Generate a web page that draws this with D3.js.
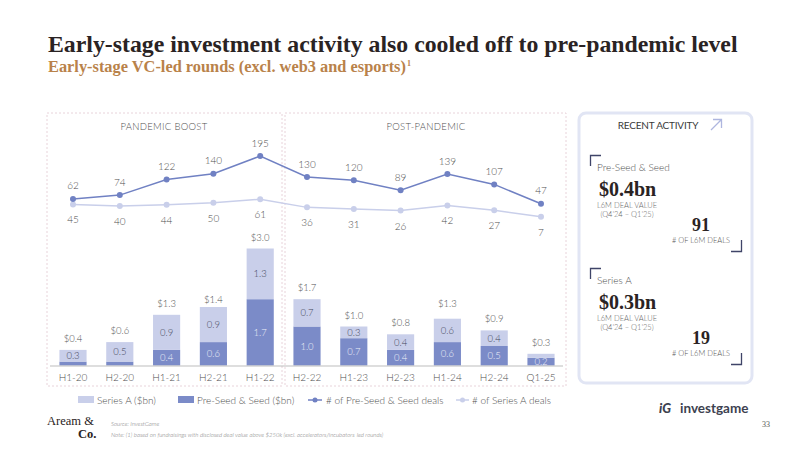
<!DOCTYPE html>
<html>
<head>
<meta charset="utf-8">
<script src="https://cdn.jsdelivr.net/npm/d3@7"></script>
<style>
  body { margin: 0; background: #fff; }
  svg { display: block; }
  text { font-family: Lato, "Open Sans", sans-serif; font-weight: 300; }
  .serif { font-family: "Liberation Serif", "DejaVu Serif", serif; }
</style>
</head>
<body>
<svg id="chart" width="800" height="450"></svg>
<script>
// periods on the x axis
var periods = ["H1-20", "H2-20", "H1-21", "H2-21", "H1-22", "H2-22", "H1-23", "H2-23", "H1-24", "H2-24", "Q1-25"];
// deal value, $bn
var seedValue = [0.1, 0.1, 0.4, 0.6, 1.7, 1.0, 0.7, 0.4, 0.6, 0.5, 0.2];
var seriesAValue = [0.3, 0.5, 0.9, 0.9, 1.3, 0.7, 0.3, 0.4, 0.6, 0.4, 0.1];
var totalValue = [0.4, 0.6, 1.3, 1.4, 3.0, 1.7, 1.0, 0.8, 1.3, 0.9, 0.3];
// number of deals
var seedDeals = [62, 74, 122, 140, 195, 130, 120, 89, 139, 107, 47];
var seriesADeals = [45, 40, 44, 50, 61, 36, 31, 26, 42, 27, 7];

var darkBlue = "#7b8bc8";
var lightBlue = "#c9cfea";
var textGray = "#4f4f4f";

var svg = d3.select("#chart");

// fit a text node to a given width by scaling its font size
function fitWidth(sel, size, w) {
  var l = sel.node().getComputedTextLength();
  sel.attr("font-size", size * w / l);
}

// title + subtitle
var title = svg.append("text")
    .attr("class", "serif")
    .attr("x", 48).attr("y", 52)
    .attr("font-size", 22).style("font-weight", "bold")
    .attr("fill", "#2a2323")
    .text("Early-stage investment activity also cooled off to pre-pandemic level");
fitWidth(title, 22, 690);

var sub = svg.append("text")
    .attr("class", "serif")
    .attr("x", 48).attr("y", 72)
    .attr("font-size", 15)
    .style("font-weight", "bold")
    .attr("fill", "#b9824a")
    .text("Early-stage VC-led rounds (excl. web3 and esports)");
fitWidth(sub, 15, 358);
svg.append("text").attr("class", "serif").attr("x", 407).attr("y", 66)
    .attr("font-size", 8).style("font-weight", "bold").attr("fill", "#b9824a").text("1");

// panel boxes
svg.append("rect").attr("x", 47).attr("y", 113).attr("width", 235).attr("height", 273)
    .attr("fill", "none").attr("stroke", "#e8d3da").attr("stroke-dasharray", "2,2");
svg.append("rect").attr("x", 285).attr("y", 113).attr("width", 281).attr("height", 273)
    .attr("fill", "none").attr("stroke", "#e8d3da").attr("stroke-dasharray", "2,2");

svg.append("text").attr("x", 164).attr("y", 129.5).attr("text-anchor", "middle")
    .attr("font-size", 9.5).attr("letter-spacing", 0.3).attr("fill", textGray).text("PANDEMIC BOOST");
svg.append("text").attr("x", 426).attr("y", 129.5).attr("text-anchor", "middle")
    .attr("font-size", 9.5).attr("letter-spacing", 0.3).attr("fill", textGray).text("POST-PANDEMIC");

// scales
var x = d3.scaleBand()
    .domain(periods)
    .range([49.6, 564.4])
    .paddingInner(0.42)
    .paddingOuter(0.21);

var yBar = d3.scaleLinear().domain([0, 3.0]).range([365.5, 248.5]);
var yLine = d3.scaleLinear().domain([0, 195]).range([219, 156]);

var rows = periods.map(function (p, i) {
  return { p: p, seed: seedValue[i], a: seriesAValue[i], total: totalValue[i],
           sd: seedDeals[i], ad: seriesADeals[i] };
});

var bars = svg.append("g");

// pre-seed & seed (bottom)
bars.selectAll("rect.seed")
    .data(rows).enter().append("rect")
    .attr("class", "seed")
    .attr("x", function (d) { return x(d.p); })
    .attr("width", x.bandwidth())
    .attr("y", function (d) { return yBar(d.seed); })
    .attr("height", function (d) { return yBar(0) - yBar(d.seed); })
    .attr("fill", darkBlue);

// series A (stacked on top)
bars.selectAll("rect.sa")
    .data(rows).enter().append("rect")
    .attr("class", "sa")
    .attr("x", function (d) { return x(d.p); })
    .attr("width", x.bandwidth())
    .attr("y", function (d) { return yBar(d.seed + d.a); })
    .attr("height", function (d) { return yBar(d.seed) - yBar(d.seed + d.a); })
    .attr("fill", lightBlue);

var cx = function (d) { return x(d.p) + x.bandwidth() / 2; };

// segment labels
bars.selectAll("text.seedlab")
    .data(rows.filter(function (d) { return d.seed >= 0.2; })).enter().append("text")
    .attr("x", cx)
    .attr("y", function (d) { return (yBar(0) + yBar(d.seed)) / 2 + 3.5; })
    .attr("text-anchor", "middle").attr("font-size", 9.5).attr("fill", "#eef0f8")
    .text(function (d) { return d.seed.toFixed(1); });

bars.selectAll("text.salab")
    .data(rows.filter(function (d) { return d.a >= 0.2; })).enter().append("text")
    .attr("x", cx)
    .attr("y", function (d) { return (yBar(d.seed) + yBar(d.seed + d.a)) / 2 + 3.5; })
    .attr("text-anchor", "middle").attr("font-size", 9.5).attr("fill", "#44475a")
    .text(function (d) { return d.a.toFixed(1); });

bars.selectAll("text.total")
    .data(rows).enter().append("text")
    .attr("x", cx)
    .attr("y", function (d) { return yBar(d.total) - 8; })
    .attr("text-anchor", "middle").attr("font-size", 9.5).attr("fill", textGray)
    .text(function (d) { return "$" + d.total.toFixed(1); });

// x axis
var xAxis = svg.append("g")
    .attr("transform", "translate(0," + yBar(0) + ")")
    .call(d3.axisBottom(x).tickSize(0).tickPadding(8));
xAxis.select(".domain").attr("stroke", "#bdbdbd").attr("stroke-width", 1.2)
    .attr("d", "M50,0.5H563");
xAxis.selectAll("text").attr("font-size", 10).attr("fill", textGray)
    .attr("font-family", "Lato, sans-serif");

// deal-count lines
var line = function (key) {
  return d3.line().x(cx).y(function (d) { return yLine(d[key]); });
};

svg.append("path").datum(rows).attr("d", line("ad"))
    .attr("fill", "none").attr("stroke", lightBlue).attr("stroke-width", 1.5);
svg.append("path").datum(rows).attr("d", line("sd"))
    .attr("fill", "none").attr("stroke", "#7081c3").attr("stroke-width", 1.5);

svg.selectAll("circle.ad").data(rows).enter().append("circle")
    .attr("cx", cx).attr("cy", function (d) { return yLine(d.ad); })
    .attr("r", 3).attr("fill", lightBlue);
svg.selectAll("circle.sd").data(rows).enter().append("circle")
    .attr("cx", cx).attr("cy", function (d) { return yLine(d.sd); })
    .attr("r", 3).attr("fill", "#7081c3");

svg.selectAll("text.sdl").data(rows).enter().append("text")
    .attr("x", cx).attr("y", function (d) { return yLine(d.sd) - 9.5; })
    .attr("text-anchor", "middle").attr("font-size", 10).attr("fill", textGray)
    .text(function (d) { return d.sd; });
svg.selectAll("text.adl").data(rows).enter().append("text")
    .attr("x", cx).attr("y", function (d) { return yLine(d.ad) + 19; })
    .attr("text-anchor", "middle").attr("font-size", 10).attr("fill", textGray)
    .text(function (d) { return d.ad; });

// legend
var leg = svg.append("g").attr("font-size", 10).attr("fill", textGray);
leg.append("rect").attr("x", 78).attr("y", 396).attr("width", 16).attr("height", 7).attr("fill", lightBlue);
leg.append("text").attr("x", 97).attr("y", 403.5).text("Series A ($bn)");
leg.append("rect").attr("x", 178).attr("y", 396).attr("width", 16).attr("height", 7).attr("fill", darkBlue);
leg.append("text").attr("x", 197).attr("y", 403.5).text("Pre-Seed & Seed ($bn)");
leg.append("line").attr("x1", 308).attr("x2", 322).attr("y1", 400).attr("y2", 400)
    .attr("stroke", "#7081c3").attr("stroke-width", 1.5);
leg.append("circle").attr("cx", 315).attr("cy", 400).attr("r", 2.5).attr("fill", "#7081c3");
leg.append("text").attr("x", 326).attr("y", 403.5).text("# of Pre-Seed & Seed deals");
leg.append("line").attr("x1", 456).attr("x2", 469).attr("y1", 400).attr("y2", 400)
    .attr("stroke", lightBlue).attr("stroke-width", 1.5);
leg.append("circle").attr("cx", 462.5).attr("cy", 400).attr("r", 2.5).attr("fill", lightBlue);
leg.append("text").attr("x", 472).attr("y", 403.5).text("# of Series A deals");

// recent activity card
var card = svg.append("g");
card.append("rect").attr("x", 579).attr("y", 113).attr("width", 173).attr("height", 270)
    .attr("rx", 7).attr("fill", "#fff").attr("stroke", "#e1e5f4").attr("stroke-width", 3);
card.append("text").attr("x", 658).attr("y", 129).attr("text-anchor", "middle")
    .attr("font-size", 10).style("font-weight", 400).attr("fill", "#3a3a3a").attr("letter-spacing", -0.2).text("RECENT ACTIVITY");
card.append("path").attr("d", "M711,130L721,120M713,119.5H721.5V128")
    .attr("fill", "none").attr("stroke", "#aeb6df").attr("stroke-width", 1.3);

var blocks = [
  { name: "Pre-Seed & Seed", value: "$0.4bn", deals: "91", y0: 0 },
  { name: "Series A", value: "$0.3bn", deals: "19", y0: 113 }
];
blocks.forEach(function (b) {
  var g = card.append("g").attr("transform", "translate(0," + b.y0 + ")");
  g.append("path").attr("d", "M590.5,166V155.5H601").attr("fill", "none")
      .attr("stroke", "#3f4468").attr("stroke-width", 1.3);
  g.append("text").attr("x", 597).attr("y", 170.5).attr("font-size", 10).attr("fill", "#4f4f4f").text(b.name);
  g.append("text").attr("class", "serif").attr("x", 599).attr("y", 196)
      .attr("font-size", 20).style("font-weight", "bold").attr("fill", "#2a2323").text(b.value);
  g.append("text").attr("x", 627).attr("y", 207.5).attr("text-anchor", "middle")
      .attr("font-size", 7.5).attr("fill", "#666").text("L6M DEAL VALUE");
  g.append("text").attr("x", 627).attr("y", 216.5).attr("text-anchor", "middle")
      .attr("font-size", 7.5).attr("fill", "#666").text("(Q4’24 – Q1’25)");
  g.append("text").attr("class", "serif").attr("x", 701).attr("y", 230.5).attr("text-anchor", "middle")
      .attr("font-size", 18).style("font-weight", "bold").attr("fill", "#2a2323").text(b.deals);
  g.append("text").attr("x", 701).attr("y", 242.5).attr("text-anchor", "middle")
      .attr("font-size", 7.5).attr("fill", "#555").text("# OF L6M DEALS");
  g.append("path").attr("d", "M741.5,240V251.5H731").attr("fill", "none")
      .attr("stroke", "#3f4468").attr("stroke-width", 1.3);
});

// footer
svg.append("text").attr("class", "serif").attr("x", 47).attr("y", 425)
    .attr("font-size", 12.5).style("font-weight", 400).attr("fill", "#2a2323").text("Aream &");
svg.append("text").attr("class", "serif").attr("x", 78).attr("y", 438)
    .attr("font-size", 12.5).style("font-weight", "bold").attr("fill", "#2a2323").text("Co.");
svg.append("text").attr("x", 111).attr("y", 426).attr("font-size", 6).attr("font-style", "italic")
    .attr("fill", "#777").text("Source: InvestGame");
svg.append("text").attr("x", 111).attr("y", 437).attr("font-size", 6).attr("font-style", "italic")
    .attr("fill", "#777").text("Note: (1) based on fundraisings with disclosed deal value above $250k (excl. accelerators/incubators-led rounds)");
svg.append("text").attr("class", "serif").attr("x", 762).attr("y", 427)
    .attr("font-size", 8).style("font-weight", 400).attr("fill", "#555").text("33");

svg.append("text").attr("x", 659).attr("y", 413).attr("font-size", 13).style("font-weight", 900)
    .attr("font-style", "italic").attr("fill", "#3d4250").attr("font-family", "Roboto, sans-serif").text("iG");
svg.append("text").attr("x", 680).attr("y", 413).attr("font-size", 13.5).style("font-weight", "bold")
    .attr("fill", "#3d4250").attr("font-family", "Roboto, sans-serif").text("investgame");
</script>
</body>
</html>
